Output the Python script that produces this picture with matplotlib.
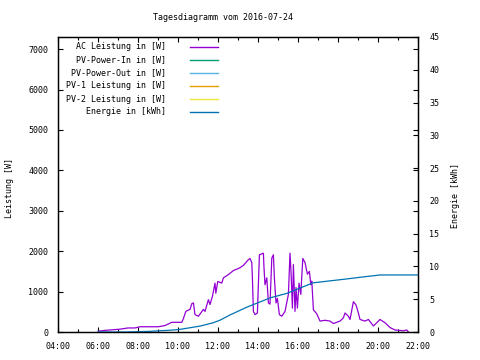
import matplotlib
matplotlib.use("Agg")
import matplotlib.pyplot as plt
from matplotlib.lines import Line2D
from matplotlib.ticker import MultipleLocator, FuncFormatter

# ---- data ----
title = "Tagesdiagramm vom 2016-07-24"
ylabel_left = "Leistung [W]"
ylabel_right = "Energie [kWh]"

series_names = ["AC Leistung in [W]", "PV-Power-In in [W]", "PV-Power-Out in [W]",
                "PV-1 Leistung in [W]", "PV-2 Leistung in [W]", "Energie in [kWh]"]
series_colors = ["#9400d3", "#009e73", "#56b4e9", "#e69f00", "#f0e442", "#0072b2"]

ac_hours = [6.02, 6.35, 6.85, 7.10, 7.50, 7.85, 8.10, 9.02, 9.35, 9.69, 10.19, 10.27,
            10.39, 10.60, 10.69, 10.77, 10.85, 11.02, 11.27, 11.35, 11.52, 11.60, 11.72,
            11.85, 11.89, 11.99, 12.19, 12.27, 12.52, 12.77, 13.10, 13.27, 13.52, 13.60,
            13.69, 13.72, 13.77, 13.85, 13.97, 14.07, 14.27, 14.30, 14.35, 14.44, 14.52,
            14.60, 14.69, 14.77, 14.82, 14.90, 14.97, 15.07, 15.19, 15.35, 15.52, 15.60,
            15.65, 15.72, 15.77, 15.85, 15.90, 15.97, 16.05, 16.14, 16.24, 16.35, 16.47,
            16.57, 16.64, 16.69, 16.77, 16.94, 17.10, 17.35, 17.60, 17.77, 18.10, 18.27,
            18.35, 18.52, 18.60, 18.77, 18.90, 19.02, 19.10, 19.35, 19.52, 19.77, 19.94,
            20.10, 20.35, 20.60, 20.85, 21.27, 21.44, 21.52]
ac_watts = [20, 40, 60, 70, 100, 100, 130, 130, 160, 240, 240, 330,
            510, 560, 700, 720, 430, 390, 560, 510, 800, 680, 880,
            1210, 960, 1250, 1210, 1340, 1420, 1520, 1590, 1650, 1790, 1820,
            1720, 1340, 510, 430, 470, 1910, 1950, 1590, 1170, 1340, 720,
            690, 1830, 1910, 1340, 720, 830, 430, 390, 510, 930, 1950,
            1500, 590, 1670, 510, 1100, 590, 1210, 930, 1820, 1720, 1430,
            1500, 1170, 1260, 550, 450, 270, 290, 270, 210, 270, 350,
            470, 390, 310, 750, 670, 470, 310, 270, 310, 150, 230,
            310, 230, 110, 50, 30, 50, 0]

energy_hours = [6.0, 7.45, 8.6, 9.75, 10.1, 11.1, 11.75, 12.1, 12.6, 13.45, 13.95,
                14.6, 15.45, 16.1, 16.75, 17.6, 18.45, 19.25, 20.1, 22.0]
energy_kwh = [0.0, 0.0, 0.1, 0.3, 0.4, 0.9, 1.4, 1.8, 2.6, 3.8, 4.4,
              5.2, 5.9, 6.7, 7.5, 7.8, 8.1, 8.4, 8.7, 8.7]

# other series: no data in this chart
pv_in_hours, pv_in_watts = [], []
pv_out_hours, pv_out_watts = [], []
pv1_hours, pv1_watts = [], []
pv2_hours, pv2_watts = [], []

x_range = (4, 22)
y_left_range = (0, 7300)
y_right_range = (0, 45)

# ---- plot ----
plt.rcParams['font.family'] = ['DejaVu Sans Mono']
fs = 6

fig = plt.figure(figsize=(4.8, 3.6), dpi=100)
W, H = 480, 360
L, R, T, B = 58, 418, 37, 332
ax = fig.add_axes([L / W, 1 - B / H, (R - L) / W, (B - T) / H])
ax2 = ax.twinx()

lw = 0.9
ax.plot(ac_hours, ac_watts, color=series_colors[0], lw=lw)
ax.plot(pv_in_hours, pv_in_watts, color=series_colors[1], lw=lw)
ax.plot(pv_out_hours, pv_out_watts, color=series_colors[2], lw=lw)
ax.plot(pv1_hours, pv1_watts, color=series_colors[3], lw=lw)
ax.plot(pv2_hours, pv2_watts, color=series_colors[4], lw=lw)
ax2.plot(energy_hours, energy_kwh, color=series_colors[5], lw=lw)

ax.set_xlim(*x_range)
ax.set_ylim(*y_left_range)
ax2.set_ylim(*y_right_range)

ax.xaxis.set_major_locator(MultipleLocator(2))
ax.xaxis.set_minor_locator(MultipleLocator(1))
ax.xaxis.set_major_formatter(FuncFormatter(lambda v, p: "%02d:00" % int(round(v))))
ax.yaxis.set_major_locator(MultipleLocator(1000))
ax2.yaxis.set_major_locator(MultipleLocator(5))

ax.tick_params(axis='both', which='major', direction='in', length=3.5, width=0.8,
               labelsize=fs, top=True, right=True, pad=7)
ax.tick_params(axis='x', which='minor', direction='in', length=2, width=0.8, top=True)
ax.tick_params(axis='y', which='minor', left=False, right=False)
ax2.tick_params(axis='y', which='major', direction='in', length=3.5, width=0.8,
                labelsize=fs, pad=8)

for a in (ax, ax2):
    for s in a.spines.values():
        s.set_linewidth(0.9)
        s.set_color('black')

for lab in ax2.get_yticklabels():
    lab.set_horizontalalignment('left')

# title and axis labels
fig.text(223 / W, 1 - 17 / H, title, ha='center', va='center', fontsize=fs)
fig.text(10 / W, 1 - 188 / H, ylabel_left, rotation=90, ha='center', va='center', fontsize=fs)
fig.text(455 / W, 1 - 195 / H, ylabel_right, rotation=90, ha='center', va='center', fontsize=fs)

# legend (gnuplot style: right-aligned text, sample line to the right)
leg_y = [46.7, 60, 72.7, 86, 99.3, 111.7]
for name, col, yy in zip(series_names, series_colors, leg_y):
    fig.text(166 / W, 1 - yy / H, name, ha='right', va='center', fontsize=fs)
    fig.add_artist(Line2D([190 / W, 218 / W], [1 - yy / H, 1 - yy / H],
                          color=col, lw=1.0, transform=fig.transFigure))

fig.savefig("out.png", dpi=100)
